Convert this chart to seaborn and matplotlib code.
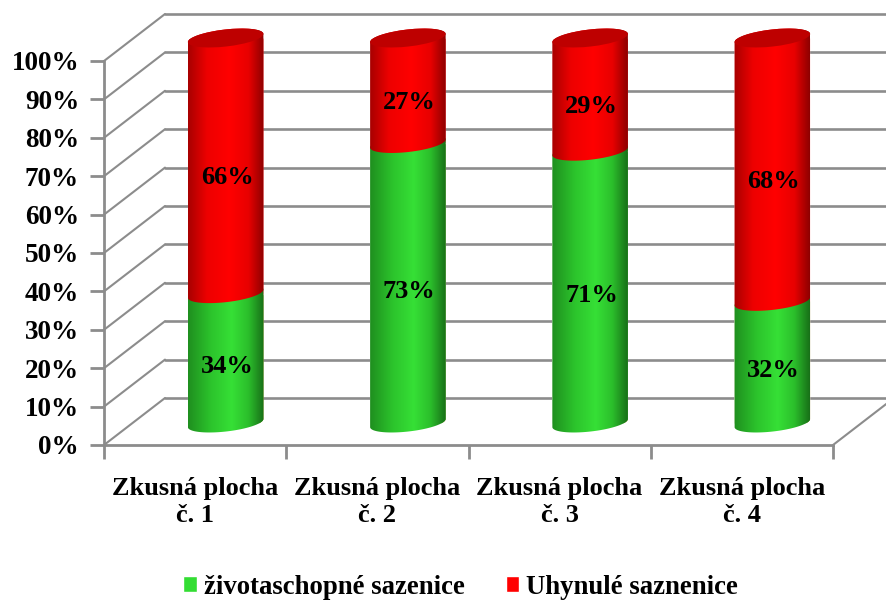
import numpy as np
import pandas as pd
import matplotlib
matplotlib.use("Agg")
import matplotlib.pyplot as plt
import seaborn as sns
from matplotlib.colors import LinearSegmentedColormap
from matplotlib.patches import Ellipse, Patch
from matplotlib.path import Path
from matplotlib.transforms import IdentityTransform

categories = ["Zkusná plocha\nč. 1", "Zkusná plocha\nč. 2", "Zkusná plocha\nč. 3", "Zkusná plocha\nč. 4"]
alive = [33.6, 72.6, 70.6, 31.6]
dead = [66.4, 27.4, 29.4, 68.4]
alive_name = "životaschopné sazenice"
dead_name = "Uhynulé saznenice"
y_ticks = [0, 10, 20, 30, 40, 50, 60, 70, 80, 90, 100]
GREEN, RED, RED_TOP, GRID = "#33DD33", "#FF0000", "#BE0000", "#8C8C8C"

sns.set_theme(style="white")
plt.rcParams["font.family"] = ["Liberation Serif", "DejaVu Serif"]
plt.rcParams["font.weight"] = "bold"
plt.rcParams["text.color"] = "black"
plt.rcParams["xtick.labelcolor"] = "black"
plt.rcParams["ytick.labelcolor"] = "black"

W, H = 886, 601
fig = plt.figure(figsize=(W / 100, H / 100), dpi=100, facecolor="white")


def rect(x0, x1, ytop, ybot):
    return [x0 / W, 1 - ybot / H, (x1 - x0) / W, (ybot - ytop) / H]


# Front plane of the pseudo-3D box
ax = fig.add_axes(rect(104, 833, 61, 445))
ax.set_xlim(-0.5, 3.5)
ax.set_ylim(0, 100)
ax.patch.set_alpha(0)
for s in ("top", "right"):
    ax.spines[s].set_visible(False)
for s in ("left", "bottom"):
    ax.spines[s].set_color(GRID)
    ax.spines[s].set_linewidth(2)
ax.set_yticks(y_ticks, [f"{v}%" for v in y_ticks])
ax.set_xticks(np.arange(-0.5, 4.0, 1.0), [""] * 5)
ax.set_xticks(np.arange(4), categories, minor=True)
ax.tick_params(axis="y", length=10, width=2, color=GRID, labelsize=19.5, pad=8, left=True, labelcolor="black")
ax.tick_params(axis="x", which="major", length=10, width=2, color=GRID, bottom=True)
ax.tick_params(axis="x", which="minor", length=0, labelsize=19, pad=23, labelcolor="black")
for t in ax.get_xticklabels(minor=True):
    t.set_linespacing(1.25)

dx = 61 / (729 / 4)
dy = 47 / 3.84
for v in y_ticks:
    ax.plot([-0.5, -0.5 + dx], [v, v + dy], color=GRID, lw=1.5, clip_on=False, zorder=1)
    ax.plot([-0.5 + dx, 3.9], [v + dy, v + dy], color=GRID, lw=1.9, clip_on=False, zorder=1)
ax.plot([3.5, 3.5 + dx], [0, dy], color=GRID, lw=1.5, clip_on=False, zorder=1)

# Cylinders: same scales, shifted to the middle of the box depth
ax2 = fig.add_axes(rect(134.5, 863.5, 38, 423))
ax2.patch.set_alpha(0)
df = pd.DataFrame({"cat": categories, "alive": alive, "total": np.add(alive, dead)})
width = 76 / (729 / 4)
sns.barplot(data=df, x="cat", y="total", color=RED, saturation=1, width=width, ax=ax2, zorder=3)
sns.barplot(data=df, x="cat", y="alive", color=GREEN, saturation=1, width=width, ax=ax2, zorder=3)
ax2.set_xlim(-0.5, 3.5)
ax2.set_ylim(0, 100)
ax2.axis("off")

A, B, TILT = 38.0, 8.5, np.deg2rad(6.5)


def arc(cx, cy, t0, t1):
    t = np.linspace(t0, t1, 60)
    return np.column_stack([
        cx + A * np.cos(t) * np.cos(TILT) - B * np.sin(t) * np.sin(TILT),
        cy + A * np.cos(t) * np.sin(TILT) + B * np.sin(t) * np.cos(TILT),
    ])


def shape(i, v0, v1):
    cx0, y0 = ax2.transData.transform((i, v0))
    cx1, y1 = ax2.transData.transform((i, v1))
    pts = np.vstack([arc(cx0, y0, np.pi, 2 * np.pi), arc(cx1, y1, 0, np.pi)])
    return Path(np.vstack([pts, pts[:1]]), closed=True)


green_cmap = LinearSegmentedColormap.from_list(
    "g", [(0, "#1F8F1F"), (0.3, "#2CC42C"), (0.58, "#36E036"), (0.8, "#2BBE2B"), (1, "#187018")])
red_cmap = LinearSegmentedColormap.from_list(
    "r", [(0, "#A80000"), (0.25, "#EE0000"), (0.55, "#FF0000"), (0.8, "#E80000"), (1, "#8E0000")])
grad = np.linspace(0, 1, 128)[None, :]

for i, (a, d) in enumerate(zip(alive, dead)):
    total = a + d
    half = width / 2
    for cmap, v0, v1, z in ((green_cmap, 0, a, 4), (red_cmap, a, total, 5)):
        im = ax2.imshow(grad, cmap=cmap, aspect="auto", zorder=z,
                        extent=(i - half, i + half, v0 - 6, v1 + 6), interpolation="bilinear")
        im.set_clip_box(fig.bbox)
        im.set_clip_path(shape(i, v0, v1), IdentityTransform())
    cx, cy = ax2.transData.transform((i, total))
    ax2.add_patch(Ellipse((cx, cy), 2 * A, 2 * B, angle=np.rad2deg(TILT), facecolor=RED_TOP,
                          edgecolor="none", transform=IdentityTransform(), zorder=6, clip_on=False))
    for v0, v1, val, off in ((0, a, a, -6), (a, total, d, -8.6)):
        ax2.annotate(f"{val:.0f}%", (i, (v0 + v1) / 2), xytext=(1, off), textcoords="offset points",
                     ha="center", va="center", fontsize=19, fontweight="bold", color="black", zorder=7)
for p in ax2.patches:
    if isinstance(p, Ellipse):
        continue
    cat = int(round(p.get_x() + p.get_width() / 2))
    p.set_clip_box(fig.bbox)
    p.set_clip_path(shape(cat, 0, p.get_height()), IdentityTransform())
ax2.set_xlim(-0.5, 3.5)
ax2.set_ylim(0, 100)
ax2.set_aspect("auto")

handles = [Patch(facecolor=GREEN, label=alive_name), Patch(facecolor=RED, label=dead_name)]
leg = fig.legend(handles=handles, ncol=2, frameon=False, loc="center", bbox_to_anchor=(460.5 / W, 1 - 587 / H),
                 prop={"size": 19.3, "weight": "bold", "family": "Liberation Serif"},
                 handlelength=0.52, handleheight=0.56, handletextpad=0.26, columnspacing=1.53,
                 borderpad=0, borderaxespad=0)

fig.savefig("out.png", dpi=100, facecolor="white")
